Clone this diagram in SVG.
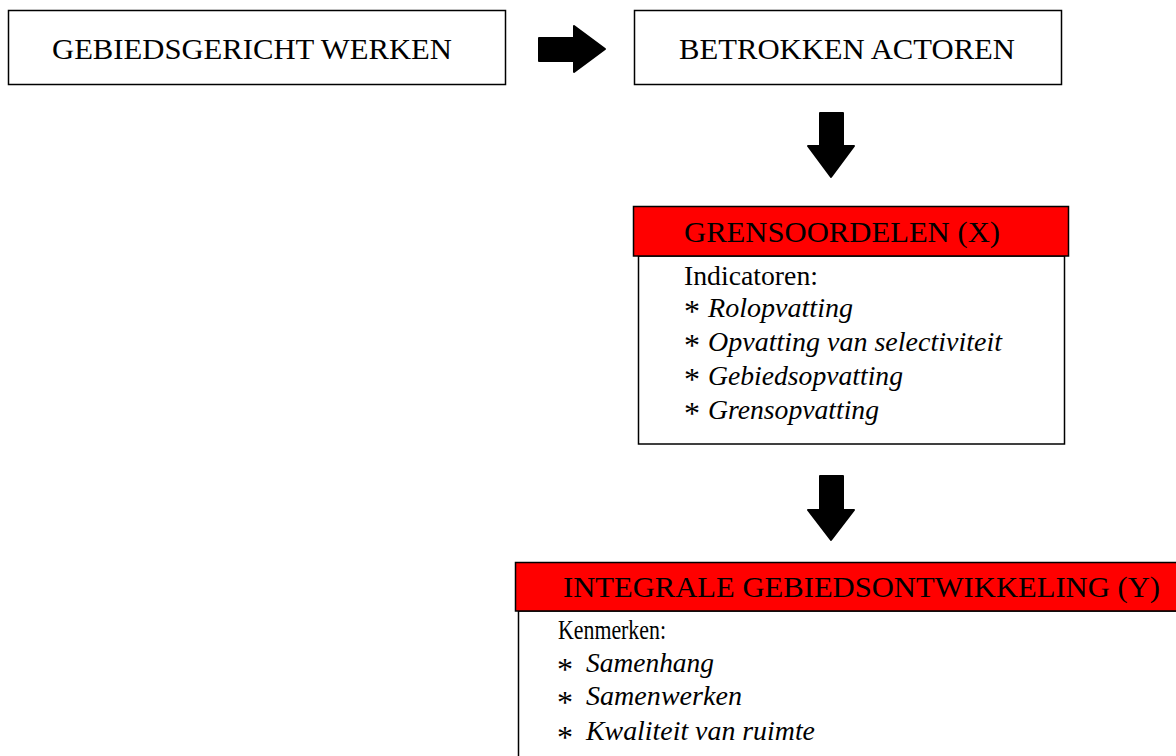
<svg xmlns="http://www.w3.org/2000/svg" width="1176" height="756" viewBox="0 0 1176 756">
<style>
.box{fill:#fff;stroke:#000;stroke-width:1.5}
.hdr{fill:#ff0000;stroke:#000;stroke-width:1.5}
.t{font-family:"Liberation Serif","Times New Roman",serif;font-size:30px;fill:#000}
.b{font-family:"Liberation Serif","Times New Roman",serif;font-size:27px;fill:#000}
.i{font-family:"Liberation Serif","Times New Roman",serif;font-size:27px;fill:#000;font-style:italic}
.s{font-family:"Liberation Serif","Times New Roman",serif;font-size:32px;fill:#000}
.arr{fill:#000;stroke:#000;stroke-width:2;stroke-linejoin:round}
</style>
<rect width="1176" height="756" fill="#fff"/>
<g id="gebiedsgericht">
<rect class="box" x="8.5" y="10.5" width="497" height="74"/>
<text class="t" x="52" y="58.5" textLength="400" lengthAdjust="spacingAndGlyphs">GEBIEDSGERICHT WERKEN</text>
</g>
<g id="actoren">
<rect class="box" x="634.5" y="10.5" width="427" height="74"/>
<text class="t" x="679" y="58.5" textLength="336" lengthAdjust="spacingAndGlyphs">BETROKKEN ACTOREN</text>
</g>
<g id="grensoordelen">
<rect class="box" x="638.5" y="256" width="426" height="188"/>
<rect class="hdr" x="633.5" y="206.5" width="435" height="49.5"/>
<text class="t" x="684" y="242" textLength="316" lengthAdjust="spacingAndGlyphs">GRENSOORDELEN (X)</text>
<text class="b" x="684" y="285" textLength="134" lengthAdjust="spacingAndGlyphs">Indicatoren:</text>
<text class="s" x="684" y="322">*</text><text class="i" x="708" y="317" textLength="145" lengthAdjust="spacingAndGlyphs">Rolopvatting</text>
<text class="s" x="684" y="356">*</text><text class="i" x="708" y="351" textLength="294" lengthAdjust="spacingAndGlyphs">Opvatting van selectiviteit</text>
<text class="s" x="684" y="390">*</text><text class="i" x="708" y="385" textLength="195" lengthAdjust="spacingAndGlyphs">Gebiedsopvatting</text>
<text class="s" x="684" y="424">*</text><text class="i" x="708" y="419" textLength="171" lengthAdjust="spacingAndGlyphs">Grensopvatting</text>
</g>
<g id="integrale">
<rect class="box" x="518.5" y="611" width="680" height="160"/>
<rect class="hdr" x="515.5" y="562.5" width="680" height="48.5"/>
<text class="t" x="563" y="597" textLength="597" lengthAdjust="spacingAndGlyphs">INTEGRALE GEBIEDSONTWIKKELING (Y)</text>
<text class="b" x="558" y="639" textLength="108" lengthAdjust="spacingAndGlyphs">Kenmerken:</text>
<text class="s" x="557" y="680">*</text><text class="i" x="586" y="672" textLength="128" lengthAdjust="spacingAndGlyphs">Samenhang</text>
<text class="s" x="557" y="713">*</text><text class="i" x="586" y="705" textLength="156" lengthAdjust="spacingAndGlyphs">Samenwerken</text>
<text class="s" x="557" y="748">*</text><text class="i" x="586" y="740" textLength="229" lengthAdjust="spacingAndGlyphs">Kwaliteit van ruimte</text>
</g>
<g id="connectors">
<path class="arr" d="M539,38 H574 V26 L605,49 L574,72 V61 H539 Z"/>
<path class="arr" d="M820,113 H843 V146 H854 L831,177 L808,146 H820 Z"/>
<path class="arr" d="M820,476 H843 V510 H854 L831,540 L808,510 H820 Z"/>
</g>
</svg>
